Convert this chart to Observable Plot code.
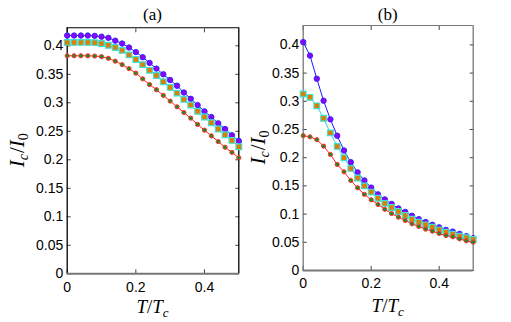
<!DOCTYPE html>
<html><head><meta charset="utf-8">
<script src="https://cdn.jsdelivr.net/npm/d3@7"></script>
<script src="https://cdn.jsdelivr.net/npm/@observablehq/plot@0.6"></script>
<style>
body{margin:0;background:#fff;}
#wrap{position:relative;width:511px;height:322px;overflow:hidden;background:#fff;}
#wrap svg{position:absolute;top:0;overflow:visible;}
</style></head><body><div id="wrap"></div>
<script>
// temperature grid T/Tc
const T = [0,0.02,0.04,0.06,0.08,0.10,0.12,0.14,0.16,0.18,0.20,0.22,0.24,0.26,0.28,0.30,0.32,0.34,0.36,0.38,0.40,0.42,0.44,0.46,0.48,0.50];

// panel (a)
const aBlue = [0.418,0.418,0.418,0.418,0.4175,0.416,0.414,0.409,0.404,0.397,0.389,0.380,0.370,0.360,0.350,0.340,0.330,0.318,0.307,0.296,0.285,0.275,0.264,0.254,0.243,0.233];
const aCyan = [0.406,0.406,0.406,0.406,0.4055,0.404,0.401,0.397,0.392,0.384,0.376,0.367,0.357,0.348,0.337,0.327,0.317,0.306,0.296,0.285,0.275,0.265,0.254,0.244,0.234,0.223];
const aRed  = [0.3825,0.3825,0.3825,0.3825,0.382,0.381,0.378,0.373,0.367,0.360,0.352,0.342,0.332,0.323,0.313,0.303,0.293,0.283,0.273,0.262,0.252,0.242,0.232,0.222,0.213,0.2035];

// panel (b)
const bBlue = [0.405,0.381,0.340,0.301,0.268,0.239,0.2128,0.192,0.174,0.1596,0.147,0.135,0.126,0.118,0.110,0.104,0.097,0.091,0.086,0.081,0.0765,0.072,0.069,0.065,0.061,0.0573];
const bCyan = [0.313,0.307,0.292,0.270,0.244,0.220,0.200,0.181,0.164,0.150,0.139,0.128,0.119,0.1117,0.1046,0.0975,0.091,0.0857,0.081,0.0768,0.0721,0.068,0.0644,0.0608,0.058,0.055];
const bRed  = [0.239,0.237,0.232,0.2205,0.2057,0.188,0.175,0.1596,0.1466,0.135,0.1253,0.117,0.1085,0.101,0.0946,0.0887,0.0827,0.078,0.0733,0.0697,0.0656,0.062,0.0597,0.0561,0.0526,0.0502];

// ticks
const xTicks = [0, 0.2, 0.4];
const xTickLabels = ["0", "0.2", "0.4"];
const yTicks = [0, 0.05, 0.1, 0.15, 0.2, 0.25, 0.3, 0.35, 0.4];
const yTickLabels = ["0", "0.05", "0.1", "0.15", "0.2", "0.25", "0.3", "0.35", "0.4"];
const titles = ["(a)", "(b)"];

const xLabelMap = new Map(xTicks.map((d, i) => [d, xTickLabels[i]]));
const yLabelMap = new Map(yTicks.map((d, i) => [d, yTickLabels[i]]));

const SERIF = "'Liberation Serif', 'DejaVu Serif', serif";

function rows(vals) { return T.map((t, i) => ({t, v: vals[i]})); }

function panel({blue, cyan, red, yMax, left, width, mL, mR, mT, mB, title, frameStroke, bottomStroke, yLabelX, xLabelY}) {
  const svg = Plot.plot({
    width, height: 322,
    marginLeft: mL, marginRight: mR, marginTop: mT, marginBottom: mB,
    style: {fontFamily: "'Liberation Sans', Arial, sans-serif", fontSize: "14px", color: "#000", background: "transparent", overflow: "visible"},
    x: {domain: [0, 0.5]},
    y: {domain: [0, yMax]},
    marks: [
      Plot.axisX({ticks: xTicks, tickSize: -4, tickPadding: 12, tickFormat: d => xLabelMap.get(d), label: null, stroke: "#444"}),
      Plot.axisX({anchor: "top", ticks: xTicks, tickSize: -4, tickFormat: () => "", label: null, stroke: "#444"}),
      Plot.axisY({ticks: yTicks, tickSize: -4, tickPadding: 8, tickFormat: d => yLabelMap.get(d), label: null, stroke: "#444"}),
      Plot.axisY({anchor: "right", ticks: yTicks, tickSize: -4, tickFormat: () => "", label: null, stroke: "#444"}),
      Plot.ruleX([0, 0.5], {stroke: frameStroke, strokeWidth: 1.3}),
      Plot.ruleY([yMax], {stroke: frameStroke, strokeWidth: 1.1}),
      Plot.ruleY([0], {stroke: bottomStroke, strokeWidth: 2}),
      // blue / violet circles
      Plot.line(rows(blue), {x: "t", y: "v", stroke: "#1a1aff", strokeWidth: 1}),
      Plot.dot(rows(blue), {x: "t", y: "v", r: 2.7, fill: "#9400f0", stroke: "#2a2aff", strokeWidth: 1}),
      // cyan / orange squares
      Plot.line(rows(cyan), {x: "t", y: "v", stroke: "#30d8d0", strokeWidth: 1}),
      Plot.dot(rows(cyan), {x: "t", y: "v", symbol: "square", r: 3.2, fill: "#dd8000", stroke: "#40e0d8", strokeWidth: 1.2}),
      // red / green
      Plot.line(rows(red), {x: "t", y: "v", stroke: "#ff2020", strokeWidth: 1}),
      Plot.dot(rows(red), {x: "t", y: "v", r: 2.1, fill: "#1f8a1f", stroke: "#ff3030", strokeWidth: 1})
    ]
  });
  svg.style.left = left + "px";
  const s = d3.select(svg);
  const cx = mL + (width - mL - mR) / 2;
  const cy = mT + (322 - mT - mB) / 2;
  s.append("text")
    .attr("x", cx).attr("y", 20)
    .attr("text-anchor", "middle")
    .attr("font-family", SERIF).attr("font-size", 17).attr("fill", "#000")
    .text(title);
  const yl = s.append("text")
    .attr("transform", `translate(${yLabelX},${cy}) rotate(-90)`)
    .attr("text-anchor", "middle")
    .attr("font-family", SERIF).attr("font-size", 21).attr("fill", "#000");
  yl.append("tspan").attr("font-style", "italic").text("I");
  yl.append("tspan").attr("font-style", "italic").attr("font-size", 14).attr("dy", 4).text("c");
  yl.append("tspan").attr("dy", -4).attr("dx", 1).text("/");
  yl.append("tspan").attr("font-style", "italic").text("I");
  yl.append("tspan").attr("font-size", 14).attr("dy", 4).text("0");
  const xl = s.append("text")
    .attr("x", cx).attr("y", xLabelY)
    .attr("text-anchor", "middle")
    .attr("font-family", SERIF).attr("font-size", 19).attr("fill", "#000");
  xl.append("tspan").attr("font-style", "italic").text("T");
  xl.append("tspan").text("/");
  xl.append("tspan").attr("font-style", "italic").text("T");
  xl.append("tspan").attr("font-style", "italic").attr("font-size", 13).attr("dy", 4).text("c");
  document.getElementById("wrap").appendChild(svg);
}

panel({blue: aBlue, cyan: aCyan, red: aRed, yMax: 0.4316, left: 0, width: 255,
  mL: 66.7, mR: 16.7, mT: 27.3, mB: 48.7, title: titles[0],
  frameStroke: "#000", bottomStroke: "#777", yLabelX: 24, xLabelY: 313});
panel({blue: bBlue, cyan: bCyan, red: bRed, yMax: 0.4344, left: 245, width: 266,
  mL: 57.7, mR: 38.3, mT: 25, mB: 52, title: titles[1],
  frameStroke: "#777", bottomStroke: "#777", yLabelX: 20, xLabelY: 312});
</script>
</body></html>
